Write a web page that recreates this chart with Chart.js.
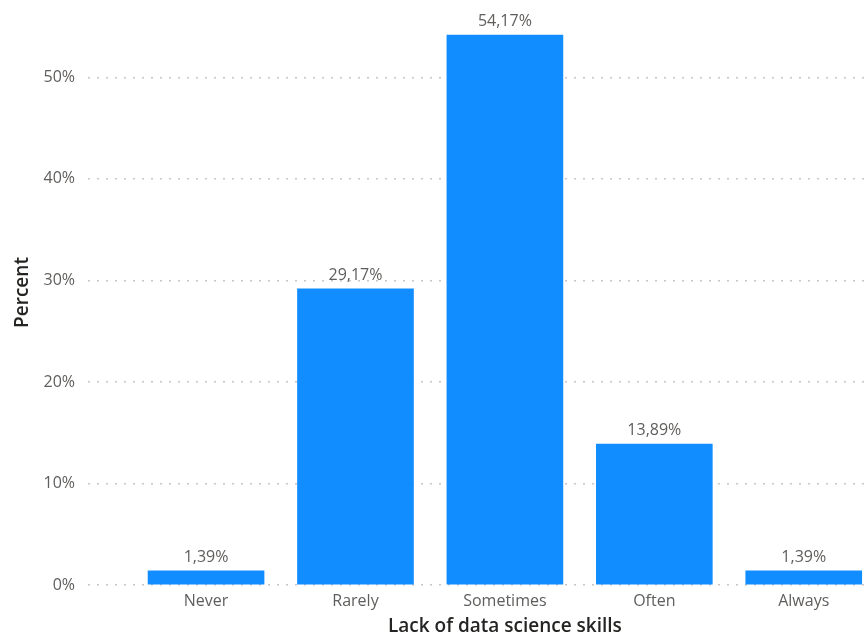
<!DOCTYPE html>
<html>
<head>
<meta charset="utf-8">
<script src="https://cdn.jsdelivr.net/npm/chart.js@4"></script>
<style>
  html, body { margin: 0; padding: 0; background: #ffffff; }
  #wrap { width: 868px; height: 643px; position: relative; }
</style>
</head>
<body>
<div id="wrap"><canvas id="c" width="868" height="643"></canvas></div>
<script>
const categories = ["Never", "Rarely", "Sometimes", "Often", "Always"];
const percentValues = [1.39, 29.17, 54.17, 13.89, 1.39];
const yTickValues = [0, 10, 20, 30, 40, 50];
const xAxisTitle = "Lack of data science skills";
const yAxisTitle = "Percent";

const FONT = "'Open Sans', 'Noto Sans', sans-serif";
const GRAY = "#605E5C";
const DARK = "#252423";

const labelPlugin = {
  id: 'labelsAndTitles',
  afterDatasetsDraw(chart) {
    const ctx = chart.ctx;
    const meta = chart.getDatasetMeta(0);
    ctx.save();
    ctx.font = "16px " + FONT;
    ctx.fillStyle = GRAY;
    ctx.textAlign = 'center';
    ctx.textBaseline = 'alphabetic';
    meta.data.forEach((bar, i) => {
      const txt = percentValues[i].toFixed(2).replace('.', ',') + '%';
      ctx.fillText(txt, bar.x, bar.y - 9);
    });
    // x title centred on the category range
    const xs = chart.scales.x;
    const cx = (xs.getPixelForValue(0) + xs.getPixelForValue(categories.length - 1)) / 2;
    ctx.font = "600 19px " + FONT;
    ctx.fillStyle = DARK;
    ctx.textBaseline = 'middle';
    ctx.fillText(xAxisTitle, cx, 627);
    // y title
    const ys = chart.scales.y;
    const cy = (ys.getPixelForValue(0) + 0) / 2;
    ctx.translate(23, cy);
    ctx.rotate(-Math.PI / 2);
    ctx.font = "600 19px " + FONT;
    ctx.fillText(yAxisTitle, 0, 0);
    ctx.restore();
  }
};

new Chart(document.getElementById('c'), {
  type: 'bar',
  data: {
    datasets: [{
      data: categories.map((c, i) => ({ x: i, y: percentValues[i] })),
      backgroundColor: '#118DFF',
      borderWidth: 0,
      barThickness: 116
    }]
  },
  options: {
    responsive: false,
    animation: false,
    layout: { autoPadding: false, padding: { top: 6, right: 0, left: 0, bottom: 0 } },
    plugins: { legend: { display: false }, tooltip: { enabled: false } },
    scales: {
      x: {
        type: 'linear',
        offset: false,
        min: -0.79,
        max: 4.43,
        afterBuildTicks(scale) { scale.ticks = categories.map((c, i) => ({ value: i })); },
        afterFit(scale) { scale.height = 58; },
        grid: { display: false, drawTicks: false, offset: false },
        border: { display: false },
        ticks: {
          autoSkip: false,
          maxRotation: 0,
          padding: 7,
          color: GRAY,
          font: { family: FONT, size: 16 },
          callback: (v) => categories[Math.round(v)] ?? ''
        }
      },
      y: {
        min: 0,
        max: 55.4,
        afterBuildTicks(scale) { scale.ticks = yTickValues.map(v => ({ value: v })); },
        afterFit(scale) { scale.width = 88; },
        grid: {
          color: '#C8C6C4',
          lineWidth: 1.5,
          drawTicks: false
        },
        border: { display: false, dash: [2, 7] },
        ticks: {
          padding: 13,
          color: GRAY,
          font: { family: FONT, size: 16 },
          callback: (v) => v + '%'
        }
      }
    }
  },
  plugins: [labelPlugin]
});
</script>
</body>
</html>
